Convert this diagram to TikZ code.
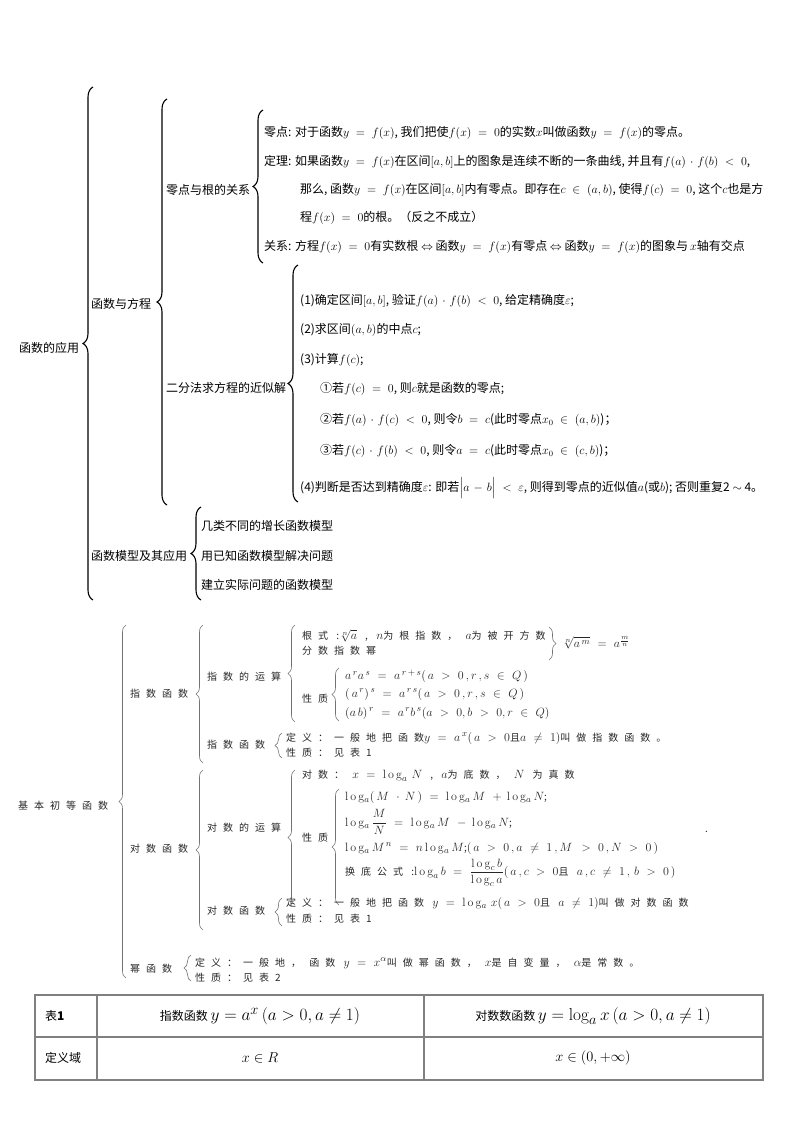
\documentclass[tikz,border=0pt]{standalone}
\usepackage{amsmath,amssymb}
\usepackage[no-math]{fontspec}
\setmainfont{Noto Sans CJK SC}
\newfontfamily\spaced[LetterSpace=60]{Noto Sans CJK SC}
\usetikzlibrary{decorations.pathreplacing}
\DeclareMathSizes{10}{12.5}{9}{7}
\newcommand{\slog}{\operatorname{l\,o\,g}}
\newcommand{\widemath}[2]{\thickmuskip=#1mu\relax\medmuskip=#2mu\relax}

\tikzset{
  bigbrace/.style={decorate, decoration={brace, amplitude=10pt}, line width=1.1pt},
  thinbrace/.style={decorate, decoration={brace, amplitude=7pt}, black!55, line width=0.6pt},
  txt/.style={anchor=west, inner sep=0pt, font=\fontsize{12}{13}\selectfont\widemath{10}{6}},
  sp/.style={anchor=west, inner sep=0pt, text=black!85, font=\spaced\fontsize{10}{12}\selectfont\widemath{11}{8}},
  cell/.style={inner sep=0pt, font=\fontsize{12}{14}\selectfont},
}

\begin{document}
\begin{tikzpicture}[x=1pt, y=-1pt]
    \useasboundingbox (0,0) rectangle (800,1133);

    % ---------- 函数的应用 ----------
    \node[txt] (app) at (19,348) {函数的应用};
    \coordinate (appT) at (93,87);
    \coordinate (appB) at (93,600);
    \draw[bigbrace] (appB) -- (appT);

    \node[txt] (fe) at (91,304) {函数与方程};
    \coordinate (feT) at (167,99);
    \coordinate (feB) at (167,505);
    \draw[bigbrace] (feB) -- (feT);

    % 零点与根的关系
    \node[txt] (zr) at (166,190) {零点与根的关系};
    \coordinate (zrT) at (263,110);
    \coordinate (zrB) at (263,263);
    \draw[bigbrace] (zrB) -- (zrT);
    \node[txt] (zr1) at (264,133) {零点: 对于函数$y = f(x)$, 我们把使$f(x) = 0$的实数$x$叫做函数$y = f(x)$的零点。};
    \node[txt] (zr2) at (264,162) {定理: 如果函数$y = f(x)$在区间$[a, b]$上的图象是连续不断的一条曲线, 并且有$f(a)\cdot f(b) < 0$,};
    \node[txt] (zr3) at (300,190) {那么, 函数$y = f(x)$在区间$[a, b]$内有零点。即存在$c \in (a, b)$, 使得$f(c) = 0$, 这个$c$也是方};
    \node[txt] (zr4) at (300,218) {程$f(x) = 0$的根。（反之不成立）};
    \node[txt] (zr5) at (264,247) {关系: 方程$f(x) = 0$有实数根 $\Leftrightarrow$ 函数$y = f(x)$有零点 $\Leftrightarrow$ 函数$y = f(x)$的图象与$\,x$轴有交点};

    % 二分法
    \node[txt] (bis) at (166,388) {二分法求方程的近似解};
    \coordinate (bisT) at (298,265);
    \coordinate (bisB) at (298,502);
    \draw[bigbrace] (bisB) -- (bisT);
    \node[txt] (bis1) at (300,301) {(1)确定区间$[a, b]$, 验证$f(a)\cdot f(b) < 0$, 给定精确度$\varepsilon$;};
    \node[txt] (bis2) at (300,330) {(2)求区间$(a, b)$的中点$c$;};
    \node[txt] (bis3) at (300,360) {(3)计算$f(c)$;};
    \node[txt] (bis4) at (320,389) {①若$f(c) = 0$, 则$c$就是函数的零点;};
    \node[txt] (bis5) at (320,420) {②若$f(a)\cdot f(c) < 0$, 则令$b = c$(此时零点$x_0 \in (a, b)$)；};
    \node[txt] (bis6) at (320,451) {③若$f(c)\cdot f(b) < 0$, 则令$a = c$(此时零点$x_0 \in (c, b)$)；};
    \node[txt] (bis7) at (300,488) {(4)判断是否达到精确度$\varepsilon$: 即若$\Bigl|a - b\Bigr| < \varepsilon$, 则得到零点的近似值$a$(或$b$); 否则重复2 $\sim$ 4。};

    % 函数模型及其应用
    \node[txt] (mod) at (91,556) {函数模型及其应用};
    \coordinate (modT) at (201,507);
    \coordinate (modB) at (201,600);
    \draw[bigbrace] (modB) -- (modT);
    \foreach \y/\t/\n in {526/几类不同的增长函数模型/1, 556/用已知函数模型解决问题/2, 585/建立实际问题的函数模型/3}
        \node[txt] (mod\n) at (201,\y) {\t};

    % ---------- 基本初等函数 ----------
    \node[sp] (basic) at (18,806) {基本初等函数};
    \coordinate (basicT) at (126,625);
    \coordinate (basicB) at (126,978);
    \draw[thinbrace] (basicB) -- (basicT);

    % 指数函数
    \node[sp] (exp) at (130,694) {指数函数};
    \coordinate (expT) at (203,625);
    \coordinate (expB) at (203,763);
    \draw[thinbrace] (expB) -- (expT);

    \node[sp] (expop) at (207,677) {指数的运算};
    \coordinate (expopT) at (295,625);
    \coordinate (expopB) at (295,722);
    \draw[thinbrace] (expopB) -- (expopT);
    \node[sp] (root) at (302,636) {根式 :$\sqrt[n]{a}$ , $n$为根指数， $a$为被开方数};
    \node[sp] (frac) at (302,651) {分数指数幂};
    \coordinate (rootT) at (549,627);
    \coordinate (rootB) at (549,660);
    \draw[thinbrace] (rootT) -- (rootB);
    \node[sp] (rooteq) at (562,643) {$\sqrt[n]{a^{\,m}} = a^{\frac{m}{n}}$};
    \node[sp] (expprop) at (302,699) {性质};
    \coordinate (exppT) at (339,668);
    \coordinate (exppB) at (339,721);
    \draw[thinbrace] (exppB) -- (exppT);
    \node[sp] (ep1) at (345,676) {$a^{\,r}a^{\,s} = a^{\,r\,+\,s}(\,a > 0\,, r\,, s \in Q\,)$};
    \node[sp] (ep2) at (345,694) {$(\,a^{\,r})^{\,s} = a^{\,r\,s}(\,a > 0\,, r\,, s \in Q\,)$};
    \node[sp] (ep3) at (345,713) {$(a\,b)^{\,r} = a^{\,r}b^{\,s}(a > 0, b > 0, r \in Q)$};

    \node[sp] (expfn) at (207,745) {指数函数};
    \coordinate (expfnT) at (282,733);
    \coordinate (expfnB) at (282,758);
    \draw[thinbrace] (expfnB) -- (expfnT);
    \node[sp] (ef1) at (286,738) {定义：一般地把函数$y = a^{\,x}(\,a > 0$且$a \neq 1)$叫做指数函数。};
    \node[sp] (ef2) at (286,753) {性质：见表1};

    % 对数函数
    \node[sp] (log) at (130,849) {对数函数};
    \coordinate (logT) at (203,770);
    \coordinate (logB) at (203,930);
    \draw[thinbrace] (logB) -- (logT);

    \node[sp] (logop) at (207,828) {对数的运算};
    \coordinate (logopT) at (295,770);
    \coordinate (logopB) at (295,905);
    \draw[thinbrace] (logopB) -- (logopT);
    \node[sp] (logdef) at (302,776) {对数： $x = \slog_{a}\,N$ , $a$为底数， $N$ 为真数};
    \node[sp] (logprop) at (302,838) {性质};
    \coordinate (logpT) at (339,789);
    \coordinate (logpB) at (339,905);
    \draw[thinbrace] (logpB) -- (logpT);
    \node[sp] (lp1) at (345,797) {$\slog_{a}(\,M\,\cdot N\,) = \slog_{a}M\, + \slog_{a}N$;};
    \node[sp] (lp2) at (345,822) {$\slog_{a}\dfrac{M}{N} = \slog_{a}M\, - \slog_{a}N$;};
    \node[sp] (lp3) at (345,848) {$\slog_{a}M^{\,n} = n\slog_{a}M$;$(\,a > 0\,, a \neq 1\,, M\, > 0\,, N > 0\,)$};
    \node[sp] (lp4) at (345,873) {换底公式 :$\slog_{a}b = \dfrac{\slog_{c}b}{\slog_{c}a}(\,a\,, c > 0$且 $a\,, c \neq 1\,,\, b > 0\,)$};
    \node[sp] (dot) at (705,832) {.};

    \node[sp] (logfn) at (207,911) {对数函数};
    \coordinate (logfnT) at (282,898);
    \coordinate (logfnB) at (282,926);
    \draw[thinbrace] (logfnB) -- (logfnT);
    \node[sp] (lf1) at (286,903) {定义：一般地把函数 $y = \slog_{a}\,x(\,a > 0$且 $a \neq 1)$叫做对数函数};
    \node[sp] (lf2) at (286,919) {性质：见表1};

    % 幂函数
    \node[sp] (pow) at (130,969) {幂函数};
    \coordinate (powT) at (191,955);
    \coordinate (powB) at (191,981);
    \draw[thinbrace] (powB) -- (powT);
    \node[sp] (pw1) at (195,963) {定义：一般地， 函数 $y = x^{\alpha}$叫做幂函数， $x$是自变量， $\alpha$是常数。};
    \node[sp] (pw2) at (195,978) {性质：见表2};

    % ---------- 表1 ----------
    \draw[black!50, line width=1.3pt] (35,995) rectangle (763,1080);
    \draw[black!50, line width=1.3pt] (35,1037) -- (763,1037);
    \draw[black!50, line width=1.3pt] (97,995) -- (97,1080);
    \draw[black!50, line width=1.3pt] (424,995) -- (424,1080);
    \node[cell, anchor=west] (t11) at (45,1016) {表\textbf{1}};
    \node[cell] (t12) at (260,1016) {指数函数 {\fontsize{19}{22}\selectfont $y = a^{x}\left(a > 0, a \neq 1\right)$}};
    \node[cell] (t13) at (593,1016) {对数数函数 {\fontsize{19}{22}\selectfont $y = \log_{a}x\left(a > 0, a \neq 1\right)$}};
    \node[cell, anchor=west] (t21) at (45,1058) {定义域};
    \node[cell] (t22) at (260,1058) {{\fontsize{14}{16}\selectfont $x \in R$}};
    \node[cell] (t23) at (593,1058) {{\fontsize{14}{16}\selectfont $x \in \left(0, +\infty\right)$}};
\end{tikzpicture}
\end{document}
